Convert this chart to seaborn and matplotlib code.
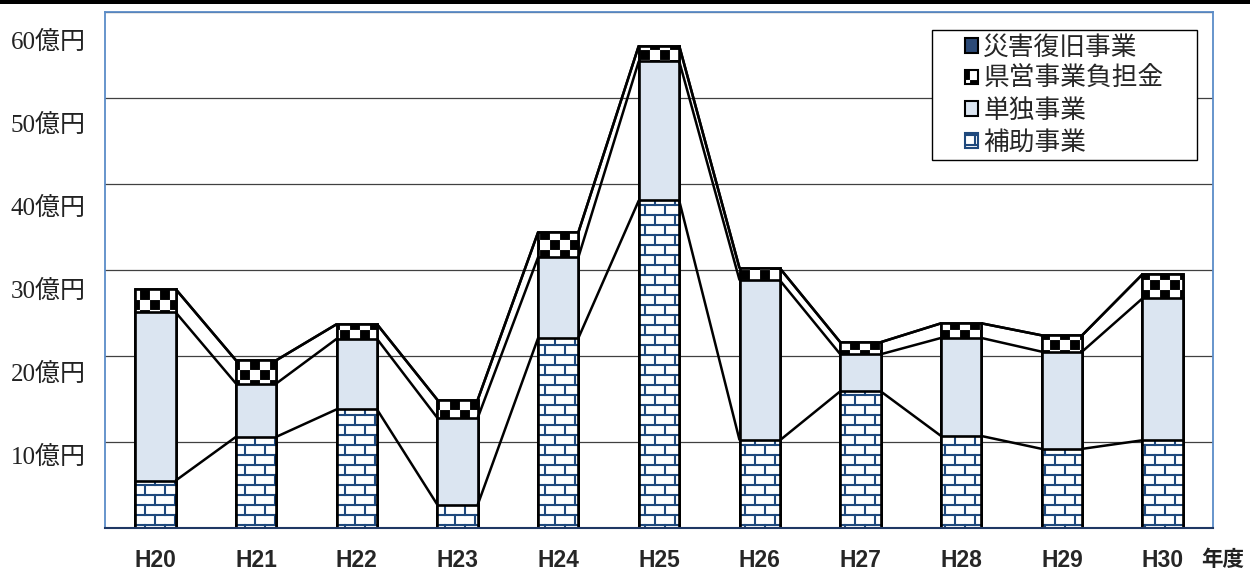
import warnings

import numpy as np
import pandas as pd
import matplotlib
matplotlib.use("Agg")
import matplotlib.pyplot as plt
from matplotlib import hatch as mhatch
from matplotlib.path import Path
from matplotlib.patches import Patch, Rectangle
from matplotlib.collections import LineCollection
import seaborn as sns

warnings.filterwarnings("ignore", message=".*hatch must consist.*")

# ---- data (億円) ----
years = ["H20", "H21", "H22", "H23", "H24", "H25", "H26", "H27", "H28", "H29", "H30"]
hojo = [5.5, 10.6, 13.8, 2.7, 22.1, 38.1, 10.2, 15.9, 10.7, 9.2, 10.2]        # 補助事業
tandoku = [19.6, 6.2, 8.2, 10.1, 9.4, 16.2, 18.6, 4.3, 11.4, 11.3, 16.5]      # 単独事業
kenei = [2.7, 2.7, 1.7, 2.1, 2.9, 1.8, 1.4, 1.4, 1.7, 1.9, 2.8]               # 県営事業負担金
saigai = [0, 0, 0, 0, 0, 0, 0, 0, 0, 0, 0]                                     # 災害復旧事業
series_names = ["補助事業", "単独事業", "県営事業負担金", "災害復旧事業"]
y_ticks = [10, 20, 30, 40, 50, 60]
y_tick_labels = [f"{v}億円" for v in y_ticks]
x_unit = "年度"


# ---- custom fill patterns: brick wall ('b') and checkerboard ('k') ----
class BrickHatch(mhatch.HatchPatternBase):
    rows, cols = 10, 5

    def __init__(self, hatch, density):
        self.segs = []
        if "b" in hatch:
            h, w = 1.0 / self.rows, 1.0 / self.cols
            for r in range(self.rows):
                y = (r + 0.5) * h
                self.segs.append(((0.0, y), (1.0, y)))
            for r in range(self.rows):
                y0 = (r + 0.5) * h
                y1 = y0 + h
                off = w / 4 if r % 2 == 0 else 3 * w / 4
                for c in range(self.cols):
                    x = c * w + off
                    if y1 <= 1.0 + 1e-9:
                        self.segs.append(((x, y0), (x, y1)))
                    else:
                        self.segs.append(((x, y0), (x, 1.0)))
                        self.segs.append(((x, 0.0), (x, y1 - 1.0)))
        self.num_vertices = 2 * len(self.segs)

    def set_vertices_and_codes(self, vertices, codes):
        for i, (a, b) in enumerate(self.segs):
            vertices[2 * i] = a
            vertices[2 * i + 1] = b
            codes[2 * i] = Path.MOVETO
            codes[2 * i + 1] = Path.LINETO


class CheckerHatch(mhatch.HatchPatternBase):
    n = 10

    def __init__(self, hatch, density):
        self.squares = []
        if "k" in hatch:
            s = 1.0 / self.n
            d = 0.011
            for i in range(self.n):
                for j in range(self.n):
                    if (i + j) % 2 == 0:
                        x0, y0 = i * s + d, j * s + d
                        x1, y1 = (i + 1) * s - d, (j + 1) * s - d
                        self.squares.append([(x0, y0), (x1, y0), (x1, y1), (x0, y1), (x0, y0)])
        self.num_vertices = 5 * len(self.squares)

    def set_vertices_and_codes(self, vertices, codes):
        for k, sq in enumerate(self.squares):
            vertices[5 * k:5 * k + 5] = sq
            codes[5 * k] = Path.MOVETO
            codes[5 * k + 1:5 * k + 4] = Path.LINETO
            codes[5 * k + 4] = Path.CLOSEPOLY


mhatch._hatch_types.extend([BrickHatch, CheckerHatch])

# ---- style ----
sns.set_theme(style="white")
plt.rcParams["font.family"] = ["Noto Sans CJK JP", "DejaVu Sans"]
plt.rcParams["hatch.linewidth"] = 1.5

NAVY = "#1f497d"
LIGHT = "#dbe5f1"
SAIGAI = "#2c4a77"
FRAME = "#5b8cc8"
BAR_W = 0.4
EDGE_LW = 1.9

fig = plt.figure(figsize=(12.5, 5.76), dpi=100)
ax = fig.add_axes([105 / 1250, 1 - 528 / 576, 1108 / 1250, 516 / 576])

# cumulative tops of each stacked segment
levels = np.cumsum(np.array([hojo, tandoku, kenei, saigai], dtype=float), axis=0)
df = pd.DataFrame({"year": years,
                   "c1": levels[0], "c2": levels[1], "c3": levels[2], "c4": levels[3]})

# stacked bars drawn as overlapping cumulative bars, tallest first
common = dict(data=df, x="year", width=BAR_W, saturation=1, ax=ax, errorbar=None)
sns.barplot(y="c4", facecolor=SAIGAI, edgecolor="black", linewidth=EDGE_LW, **common)
sns.barplot(y="c3", facecolor="white", edgecolor="black", hatch="k", linewidth=EDGE_LW, **common)
sns.barplot(y="c2", facecolor=LIGHT, edgecolor="black", linewidth=EDGE_LW, **common)
sns.barplot(y="c1", facecolor="white", edgecolor=NAVY, hatch="b", linewidth=0, **common)
sns.barplot(y="c1", facecolor="none", edgecolor="black", linewidth=EDGE_LW, **common)

# series lines joining segment tops of neighbouring bars
xs = np.arange(len(years))
segs = []
for lv in levels:
    for i in range(len(years) - 1):
        segs.append([(xs[i] + BAR_W / 2, lv[i]), (xs[i + 1] - BAR_W / 2, lv[i + 1])])
ax.add_collection(LineCollection(segs, colors="black", linewidths=1.8, zorder=3))

# y value labels on a separate left scale
lab_ax = ax.twinx()
lab_ax.set_ylim(1.2, 63.4)
lab_ax.yaxis.tick_left()
lab_ax.set_yticks(y_ticks, y_tick_labels)
lab_ax.tick_params(axis="y", length=0, pad=14, labelsize=18, labelcolor="#222222")
for lab in lab_ax.get_yticklabels():
    lab.set_fontfamily(["Liberation Serif", "Noto Sans CJK JP"])
for s in lab_ax.spines.values():
    s.set_visible(False)
lab_ax.set_zorder(ax.get_zorder() - 1)

# axes
ax.set_xlim(-0.5, len(years) - 0.5)
ax.set_ylim(0, 60)
ax.set_yticks(range(0, 61, 10))
ax.set_axisbelow(True)
ax.yaxis.grid(True, color="#404040", linewidth=0.9)
ax.xaxis.grid(False)
ax.set_xlabel("")
ax.set_ylabel("")
ax.tick_params(axis="y", which="both", left=False, right=False,
               labelleft=False, labelright=False)
ax.tick_params(axis="x", which="major", length=0, pad=15, labelsize=16.5)
ax.set_xticks(np.arange(-0.5, len(years), 1.0), minor=True)
ax.tick_params(axis="x", which="minor", direction="in", length=4.5, width=1.0, color="#333333")
for lab in ax.get_xticklabels():
    lab.set_fontfamily(["Liberation Sans", "DejaVu Sans"])
    lab.set_fontweight("bold")
for side in ("left", "top", "right"):
    ax.spines[side].set_color(FRAME)
    ax.spines[side].set_linewidth(1.3)
ax.spines["bottom"].set_color("#1f3864")
ax.spines["bottom"].set_linewidth(1.5)

fig.text(1223 / 1250, 1 - 560 / 576, x_unit, ha="center", va="center",
         fontsize=15.5, fontweight="bold", color="#222222")

# legend inside a framed box
handles = [
    Patch(facecolor=SAIGAI, edgecolor="black", linewidth=1.5),
    Patch(facecolor="white", edgecolor="black", hatch="k", linewidth=1.5),
    Patch(facecolor=LIGHT, edgecolor="black", linewidth=1.5),
    Patch(facecolor="white", edgecolor=NAVY, hatch="b", linewidth=1.5),
]
labels = [series_names[3], series_names[2], series_names[1], series_names[0]]
box_x0, box_x1 = (932 - 105) / 1108, (1197 - 105) / 1108
box_y1, box_y0 = (528 - 30) / 516, (528 - 160) / 516
ax.add_patch(Rectangle((box_x0, box_y0), box_x1 - box_x0, box_y1 - box_y0,
                       transform=ax.transAxes, facecolor="white", edgecolor="black",
                       linewidth=1.0, zorder=5))
leg = ax.legend(handles, labels, loc="center",
                bbox_to_anchor=((box_x0 + box_x1) / 2, (box_y0 + box_y1) / 2),
                frameon=False, fontsize=18.5, handlelength=0.5, handleheight=0.5,
                handletextpad=0.2, labelspacing=0.22, borderpad=0)
leg.set_zorder(6)

# dark band across the top edge
fig.patches.append(Rectangle((0, 1 - 4 / 576), 1, 4 / 576, transform=fig.transFigure,
                             facecolor="black", edgecolor="none"))

fig.savefig("out.png", dpi=100)
